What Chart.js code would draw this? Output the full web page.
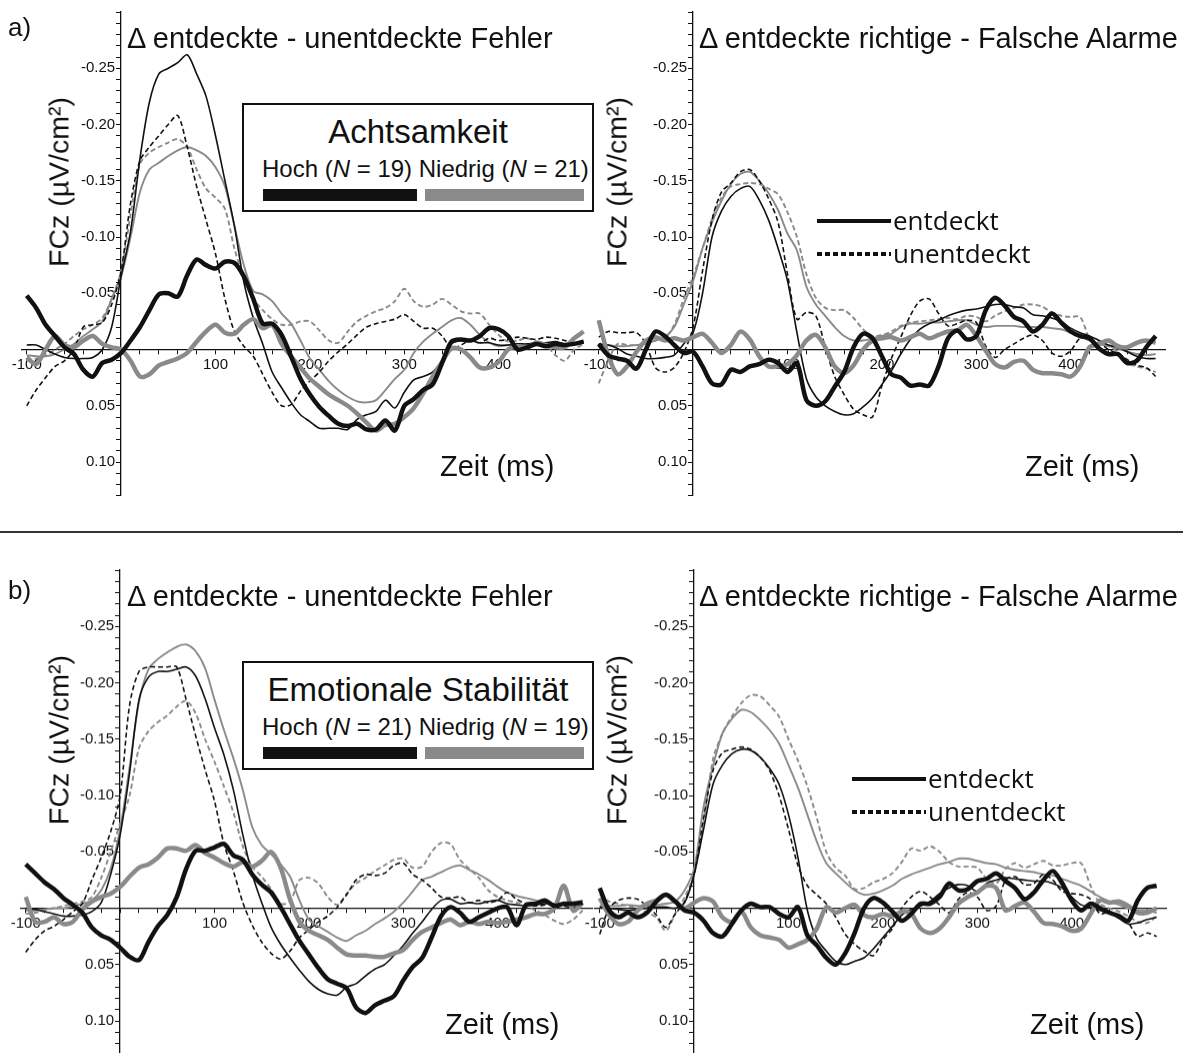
<!DOCTYPE html>
<html>
<head>
<meta charset="utf-8">
<script src="https://cdn.jsdelivr.net/npm/chart.js@4.4.0/dist/chart.umd.min.js"></script>
<style>
body { margin: 0; background: #fff; width: 1183px; height: 1053px; position: relative; overflow: hidden; font-family: "Liberation Sans", Arial, sans-serif; color: #111; }
.panel { position: absolute; z-index: 1; }
.txt { position: absolute; white-space: nowrap; z-index: 2; }
.title { font-size: 29px; line-height: 32px; }
.zeit { font-size: 29px; line-height: 32px; }
.ylab { position: absolute; white-space: nowrap; z-index: 2; font-size: 28.5px; transform: translate(-50%, -50%) rotate(-90deg); }
.legbox { position: absolute; z-index: 2; background: #fff; border: 2px solid #111; box-sizing: border-box; }
.bar { position: absolute; z-index: 3; height: 12px; }
.sep { position: absolute; left: 0; width: 1183px; top: 531px; height: 2px; background: #333; }
.open { font-family: "Open Sans", sans-serif; font-size: 26px; }
</style>
</head>
<body>

<div class="panel" id="pA1"><canvas id="cA1"></canvas></div>
<div class="panel" id="pA2"><canvas id="cA2"></canvas></div>
<div class="panel" id="pB1"><canvas id="cB1"></canvas></div>
<div class="panel" id="pB2"><canvas id="cB2"></canvas></div>

<div class="sep"></div>

<div class="txt" style="left:8px; top:12px; font-size:26px; line-height:30px;">a)</div>
<div class="txt" style="left:8px; top:575px; font-size:26px; line-height:30px;">b)</div>

<div class="txt title" style="left:127px; top:22px;">Δ entdeckte - unentdeckte Fehler</div>
<div class="txt title" style="left:699px; top:22px;">Δ entdeckte richtige - Falsche Alarme</div>
<div class="txt title" style="left:127px; top:580px;">Δ entdeckte - unentdeckte Fehler</div>
<div class="txt title" style="left:699px; top:580px;">Δ entdeckte richtige - Falsche Alarme</div>

<div class="ylab" style="left:59px; top:182px;">FCz (µV/cm²)</div>
<div class="ylab" style="left:617px; top:182px;">FCz (µV/cm²)</div>
<div class="ylab" style="left:59px; top:740px;">FCz (µV/cm²)</div>
<div class="ylab" style="left:617px; top:740px;">FCz (µV/cm²)</div>

<div class="txt zeit" style="left:440px; top:450px;">Zeit (ms)</div>
<div class="txt zeit" style="left:1025px; top:450px;">Zeit (ms)</div>
<div class="txt zeit" style="left:445px; top:1008px;">Zeit (ms)</div>
<div class="txt zeit" style="left:1030px; top:1008px;">Zeit (ms)</div>

<!-- Legende Achtsamkeit -->
<div class="legbox" style="left:242px; top:103px; width:352px; height:109px;"></div>
<div class="txt" style="left:242px; width:352px; text-align:center; top:113px; font-size:33px; line-height:38px;">Achtsamkeit</div>
<div class="txt" style="left:262px; top:156px; font-size:24px; line-height:26px;">Hoch (<i>N</i> = 19) Niedrig (<i>N</i> = 21)</div>
<div class="bar" style="left:263px; top:189px; width:154px; background:#111;"></div>
<div class="bar" style="left:425px; top:189px; width:159px; background:#8a8a8a;"></div>

<!-- Legende Emotionale Stabilitaet -->
<div class="legbox" style="left:242px; top:661px; width:352px; height:109px;"></div>
<div class="txt" style="left:242px; width:352px; text-align:center; top:671px; font-size:33px; line-height:38px;">Emotionale Stabilität</div>
<div class="txt" style="left:262px; top:714px; font-size:24px; line-height:26px;">Hoch (<i>N</i> = 21) Niedrig (<i>N</i> = 19)</div>
<div class="bar" style="left:263px; top:747px; width:154px; background:#111;"></div>
<div class="bar" style="left:425px; top:747px; width:159px; background:#8a8a8a;"></div>

<!-- Legende entdeckt / unentdeckt -->
<svg class="txt" style="left:815px; top:210px;" width="80" height="60">
	<line x1="2" y1="11" x2="76" y2="11" stroke="#111" stroke-width="4"/>
	<line x1="2" y1="44" x2="76" y2="44" stroke="#111" stroke-width="4" stroke-dasharray="5,3"/>
</svg>
<div class="txt open" style="left:893px; top:203px; line-height:34px;">entdeckt</div>
<div class="txt open" style="left:893px; top:236px; line-height:34px;">unentdeckt</div>

<svg class="txt" style="left:850px; top:768px;" width="80" height="60">
	<line x1="2" y1="11" x2="76" y2="11" stroke="#111" stroke-width="4"/>
	<line x1="2" y1="44" x2="76" y2="44" stroke="#111" stroke-width="4" stroke-dasharray="5,3"/>
</svg>
<div class="txt open" style="left:928px; top:761px; line-height:34px;">entdeckt</div>
<div class="txt open" style="left:928px; top:794px; line-height:34px;">unentdeckt</div>

<script>
// Zeitachse (ms) und Beschriftungen
var zeit = [-100, -90, -80, -70, -60, -50, -40, -30, -20, -10,
	0, 10, 20, 30, 40, 50, 60, 70, 80, 90,
	100, 110, 120, 130, 140, 150, 160, 170, 180, 190,
	200, 210, 220, 230, 240, 250, 260, 270, 280, 290,
	300, 310, 320, 330, 340, 350, 360, 370, 380, 390,
	400, 410, 420, 430, 440, 450, 460, 470, 480, 490];
var zeitTicks = [-100, 100, 200, 300, 400];
var fczTicks = [-0.25, -0.20, -0.15, -0.10, -0.05, 0.05, 0.10];

// a) Achtsamkeit - entdeckte vs. unentdeckte Fehler
var achtFehlerHochEnt = [-0.004, -0.004, 0.000, 0.004, 0.007, 0.008, 0.008, 0.007, 0.000, -0.020,
	-0.065, -0.105, -0.170, -0.220, -0.245, -0.250, -0.255, -0.262, -0.245, -0.225,
	-0.190, -0.150, -0.110, -0.060, -0.028, -0.005, 0.020, 0.034, 0.047, 0.058,
	0.064, 0.070, 0.070, 0.070, 0.071, 0.062, 0.058, 0.055, 0.045, 0.052,
	0.038, 0.027, 0.024, 0.020, 0.010, -0.005, -0.008, -0.008, -0.006, -0.006,
	-0.004, -0.004, -0.005, -0.005, -0.006, -0.006, -0.007, -0.005, -0.006, -0.007];
var achtFehlerHochUnent = [0.050, 0.036, 0.025, 0.015, 0.010, 0.000, -0.020, -0.022, -0.024, -0.040,
	-0.070, -0.130, -0.168, -0.180, -0.190, -0.200, -0.208, -0.180, -0.145, -0.115,
	-0.085, -0.045, -0.016, -0.003, 0.006, 0.022, 0.038, 0.050, 0.049, 0.037,
	0.028, 0.020, 0.010, 0.002, -0.005, -0.013, -0.020, -0.023, -0.025, -0.027,
	-0.031, -0.025, -0.019, -0.019, -0.012, -0.001, -0.004, -0.008, -0.006, -0.010,
	-0.008, -0.009, -0.011, -0.010, -0.009, -0.011, -0.010, -0.008, -0.006, -0.006];
var achtFehlerNiedrigEnt = [0.005, 0.006, 0.006, 0.004, 0.000, -0.005, -0.012, -0.018, -0.025, -0.045,
	-0.065, -0.100, -0.140, -0.160, -0.166, -0.172, -0.177, -0.180, -0.177, -0.172,
	-0.162, -0.145, -0.110, -0.075, -0.052, -0.049, -0.043, -0.032, -0.023, -0.008,
	0.008, 0.018, 0.028, 0.036, 0.042, 0.046, 0.047, 0.045, 0.036, 0.026,
	0.018, 0.003, -0.007, -0.014, -0.020, -0.026, -0.028, -0.022, -0.013, -0.006,
	-0.003, -0.004, -0.005, -0.003, -0.004, -0.003, -0.005, -0.004, -0.005, -0.006];
var achtFehlerNiedrigUnent = [0.010, 0.008, 0.005, 0.000, -0.005, -0.012, -0.018, -0.022, -0.028, -0.045,
	-0.070, -0.120, -0.165, -0.175, -0.180, -0.184, -0.187, -0.180, -0.160, -0.143,
	-0.135, -0.125, -0.090, -0.063, -0.045, -0.035, -0.027, -0.022, -0.022, -0.025,
	-0.025, -0.017, -0.008, -0.006, -0.016, -0.025, -0.030, -0.034, -0.037, -0.043,
	-0.054, -0.043, -0.038, -0.040, -0.045, -0.040, -0.034, -0.032, -0.032, -0.022,
	-0.013, -0.007, -0.008, -0.010, -0.007, -0.004, 0.005, 0.010, 0.000, -0.005];
var achtFehlerHochDiff = [-0.048, -0.037, -0.022, -0.012, -0.002, 0.004, 0.018, 0.024, 0.012, 0.009,
	0.003, -0.008, -0.020, -0.035, -0.049, -0.050, -0.047, -0.066, -0.080, -0.075,
	-0.072, -0.078, -0.077, -0.065, -0.045, -0.023, -0.023, -0.013, 0.006, 0.026,
	0.040, 0.051, 0.059, 0.066, 0.068, 0.066, 0.071, 0.071, 0.063, 0.072,
	0.050, 0.044, 0.036, 0.031, 0.012, -0.007, -0.009, -0.008, -0.012, -0.019,
	-0.018, -0.012, 0.000, -0.002, -0.005, -0.003, -0.005, -0.004, -0.005, -0.007];
var achtFehlerNiedrigDiff = [0.007, 0.013, 0.000, -0.012, -0.004, -0.002, -0.008, -0.012, -0.005, -0.002,
	0.000, 0.010, 0.024, 0.022, 0.014, 0.011, 0.008, 0.003, -0.007, -0.016,
	-0.022, -0.015, -0.014, -0.022, -0.027, -0.019, -0.022, -0.005, 0.006, 0.016,
	0.026, 0.033, 0.040, 0.045, 0.050, 0.057, 0.065, 0.072, 0.067, 0.066,
	0.060, 0.052, 0.039, 0.024, 0.011, -0.001, 0.000, 0.007, 0.016, 0.016,
	0.011, 0.000, -0.003, -0.002, -0.006, -0.004, -0.002, -0.002, -0.010, -0.016];

// a) Achtsamkeit - entdeckte richtige vs. falsche Alarme
var achtAlarmHochEnt = [-0.005, -0.004, -0.001, 0.004, 0.006, 0.008, 0.008, 0.007, 0.005, -0.005,
	-0.015, -0.050, -0.100, -0.123, -0.136, -0.143, -0.145, -0.133, -0.115, -0.090,
	-0.061, -0.015, 0.026, 0.042, 0.050, 0.055, 0.058, 0.057, 0.051, 0.043,
	0.031, 0.019, 0.004, -0.009, -0.018, -0.023, -0.026, -0.030, -0.033, -0.035,
	-0.036, -0.038, -0.040, -0.040, -0.038, -0.037, -0.031, -0.030, -0.028, -0.025,
	-0.019, -0.015, -0.012, -0.008, -0.004, -0.002, 0.002, 0.006, 0.008, 0.008];
var achtAlarmHochUnent = [-0.011, -0.016, -0.015, -0.015, -0.015, -0.005, 0.016, 0.020, 0.016, 0.003,
	-0.020, -0.070, -0.115, -0.140, -0.148, -0.158, -0.160, -0.150, -0.134, -0.113,
	-0.067, -0.027, -0.033, -0.030, -0.002, 0.024, 0.040, 0.053, 0.058, 0.060,
	0.032, 0.008, -0.011, -0.030, -0.043, -0.045, -0.032, -0.021, -0.023, -0.026,
	-0.024, -0.003, 0.007, 0.000, -0.005, -0.010, -0.013, -0.008, 0.003, 0.006,
	0.001, -0.010, -0.009, -0.006, 0.000, 0.004, 0.009, 0.014, 0.016, 0.024];
var achtAlarmNiedrigEnt = [-0.004, -0.004, -0.003, -0.003, -0.004, -0.005, -0.008, -0.011, -0.020, -0.040,
	-0.061, -0.090, -0.113, -0.132, -0.147, -0.156, -0.158, -0.150, -0.139, -0.124,
	-0.103, -0.088, -0.056, -0.040, -0.030, -0.020, -0.012, -0.008, -0.008, -0.010,
	-0.012, -0.014, -0.020, -0.023, -0.023, -0.024, -0.024, -0.025, -0.026, -0.026,
	-0.022, -0.020, -0.021, -0.021, -0.021, -0.020, -0.020, -0.020, -0.019, -0.018,
	-0.015, -0.012, -0.008, -0.005, -0.003, -0.001, 0.002, 0.004, 0.005, 0.004];
var achtAlarmNiedrigUnent = [0.030, 0.010, -0.005, -0.004, -0.004, -0.005, -0.008, -0.010, -0.022, -0.045,
	-0.065, -0.090, -0.116, -0.135, -0.145, -0.147, -0.148, -0.147, -0.143, -0.138,
	-0.122, -0.100, -0.067, -0.046, -0.037, -0.035, -0.035, -0.028, -0.018, -0.012,
	-0.013, -0.016, -0.021, -0.024, -0.025, -0.026, -0.027, -0.028, -0.027, -0.030,
	-0.029, -0.025, -0.030, -0.034, -0.037, -0.040, -0.040, -0.038, -0.033, -0.030,
	-0.029, -0.029, -0.010, -0.005, -0.003, 0.002, 0.012, 0.015, 0.017, 0.020];
var achtAlarmHochDiff = [-0.005, 0.005, 0.008, 0.010, 0.017, 0.000, -0.016, -0.012, -0.004, 0.003,
	0.002, 0.015, 0.030, 0.031, 0.018, 0.020, 0.015, 0.013, 0.009, 0.012,
	0.020, 0.012, 0.045, 0.050, 0.046, 0.033, 0.020, -0.002, -0.014, -0.010,
	0.006, 0.022, 0.025, 0.032, 0.031, 0.032, 0.015, -0.010, -0.017, -0.009,
	-0.012, -0.035, -0.046, -0.039, -0.029, -0.025, -0.016, -0.022, -0.032, -0.024,
	-0.016, -0.012, -0.010, -0.001, 0.004, 0.004, 0.012, 0.010, -0.002, -0.012];
var achtAlarmNiedrigDiff = [-0.026, 0.005, 0.022, 0.015, 0.002, -0.008, -0.011, -0.008, -0.010, -0.008,
	-0.011, -0.014, -0.006, 0.003, -0.004, -0.016, -0.009, 0.006, 0.015, 0.015,
	0.013, 0.005, -0.008, -0.013, -0.002, 0.015, 0.021, 0.014, 0.000, -0.008,
	-0.010, -0.011, -0.008, -0.011, -0.014, -0.010, -0.013, -0.016, -0.017, -0.022,
	-0.012, 0.001, 0.013, 0.016, 0.011, 0.010, 0.018, 0.021, 0.021, 0.022,
	0.024, 0.015, -0.002, -0.005, -0.008, -0.003, -0.002, -0.006, -0.008, -0.006];

// b) Emotionale Stabilitaet - entdeckte vs. unentdeckte Fehler
var emoFehlerHochEnt = [0.000, 0.001, 0.003, 0.005, 0.007, 0.007, 0.006, 0.003, -0.005, -0.030,
	-0.065, -0.120, -0.185, -0.205, -0.210, -0.210, -0.212, -0.214, -0.206, -0.186,
	-0.160, -0.136, -0.105, -0.065, -0.030, -0.005, 0.017, 0.032, 0.044, 0.055,
	0.065, 0.072, 0.076, 0.077, 0.070, 0.067, 0.060, 0.054, 0.050, 0.042,
	0.033, 0.022, 0.012, 0.001, -0.007, -0.008, -0.004, -0.005, -0.004, -0.006,
	-0.007, -0.004, -0.003, -0.002, -0.003, -0.004, -0.004, -0.004, -0.004, -0.004];
var emoFehlerHochUnent = [0.039, 0.028, 0.020, 0.016, 0.010, 0.003, -0.004, -0.025, -0.045, -0.068,
	-0.100, -0.180, -0.210, -0.214, -0.214, -0.214, -0.214, -0.185, -0.153, -0.123,
	-0.095, -0.057, -0.033, -0.005, 0.015, 0.030, 0.040, 0.045, 0.038, 0.026,
	0.019, 0.012, 0.007, -0.001, -0.012, -0.025, -0.030, -0.029, -0.031, -0.038,
	-0.040, -0.030, -0.025, -0.018, -0.010, -0.009, -0.010, -0.005, -0.007, -0.005,
	-0.007, -0.014, -0.008, -0.004, -0.002, -0.003, -0.004, -0.002, -0.001, -0.003];
var emoFehlerNiedrigEnt = [0.002, 0.002, 0.001, 0.000, 0.000, -0.002, -0.004, -0.007, -0.016, -0.035,
	-0.070, -0.125, -0.183, -0.212, -0.221, -0.227, -0.232, -0.234, -0.228, -0.213,
	-0.185, -0.158, -0.133, -0.105, -0.072, -0.056, -0.048, -0.039, -0.028, -0.007,
	0.010, 0.016, 0.021, 0.026, 0.029, 0.024, 0.020, 0.014, 0.009, 0.003,
	-0.005, -0.015, -0.025, -0.028, -0.032, -0.036, -0.038, -0.034, -0.030, -0.025,
	-0.019, -0.014, -0.011, -0.009, -0.007, -0.005, -0.004, -0.004, -0.005, -0.007];
var emoFehlerNiedrigUnent = [0.005, 0.004, 0.002, 0.000, -0.002, -0.004, -0.006, -0.010, -0.027, -0.050,
	-0.075, -0.100, -0.142, -0.157, -0.165, -0.171, -0.179, -0.184, -0.173, -0.150,
	-0.130, -0.108, -0.085, -0.055, -0.037, -0.028, -0.017, -0.004, -0.006, -0.025,
	-0.027, -0.022, -0.010, -0.003, -0.013, -0.022, -0.027, -0.033, -0.038, -0.043,
	-0.044, -0.036, -0.037, -0.050, -0.058, -0.057, -0.043, -0.035, -0.027, -0.016,
	-0.010, -0.007, -0.005, -0.002, 0.002, 0.006, 0.011, 0.014, 0.010, 0.002];
var emoFehlerHochDiff = [-0.039, -0.031, -0.023, -0.017, -0.009, -0.003, 0.004, 0.017, 0.024, 0.028,
	0.035, 0.043, 0.046, 0.030, 0.016, 0.006, -0.010, -0.035, -0.051, -0.051,
	-0.054, -0.057, -0.047, -0.043, -0.030, -0.021, -0.014, -0.001, 0.014, 0.029,
	0.041, 0.053, 0.063, 0.067, 0.071, 0.088, 0.093, 0.086, 0.082, 0.078,
	0.064, 0.052, 0.044, 0.026, 0.007, -0.001, 0.004, 0.012, 0.008, 0.004,
	0.000, -0.001, 0.015, -0.003, -0.004, -0.007, -0.002, -0.004, -0.004, -0.005];
var emoFehlerNiedrigDiff = [-0.010, 0.012, 0.012, 0.008, 0.014, 0.012, 0.001, -0.006, -0.010, -0.013,
	-0.019, -0.028, -0.036, -0.039, -0.045, -0.053, -0.053, -0.051, -0.056, -0.049,
	-0.045, -0.040, -0.037, -0.041, -0.037, -0.042, -0.050, -0.036, -0.008, 0.012,
	0.020, 0.024, 0.028, 0.035, 0.041, 0.042, 0.042, 0.043, 0.043, 0.040,
	0.037, 0.028, 0.021, 0.017, 0.013, 0.010, 0.015, 0.012, 0.014, 0.012,
	0.013, 0.012, 0.010, 0.008, 0.005, 0.005, 0.000, -0.020, 0.002, -0.005];

// b) Emotionale Stabilitaet - entdeckte richtige vs. falsche Alarme
var emoAlarmHochEnt = [-0.001, 0.000, 0.001, 0.002, 0.001, 0.000, -0.001, -0.001, 0.000, -0.005,
	-0.030, -0.070, -0.110, -0.127, -0.137, -0.141, -0.140, -0.134, -0.124, -0.110,
	-0.083, -0.045, 0.002, 0.027, 0.038, 0.047, 0.050, 0.047, 0.044, 0.036,
	0.026, 0.016, 0.006, 0.001, -0.002, -0.006, -0.013, -0.018, -0.021, -0.020,
	-0.015, -0.022, -0.025, -0.027, -0.026, -0.025, -0.024, -0.024, -0.022, -0.018,
	-0.010, -0.003, -0.001, 0.002, 0.004, 0.009, 0.014, 0.013, 0.010, 0.008];
var emoAlarmHochUnent = [0.023, 0.000, -0.007, -0.009, -0.008, -0.002, 0.006, 0.017, 0.005, -0.006,
	-0.030, -0.080, -0.122, -0.138, -0.141, -0.143, -0.141, -0.134, -0.122, -0.100,
	-0.070, -0.038, -0.020, -0.012, -0.004, 0.008, 0.023, 0.032, 0.038, 0.042,
	0.028, 0.018, 0.000, -0.010, -0.015, -0.010, -0.003, 0.004, -0.008, -0.014,
	-0.010, 0.002, -0.002, -0.025, -0.028, -0.021, -0.022, -0.030, -0.025, -0.015,
	-0.013, -0.012, -0.008, 0.005, 0.003, 0.008, 0.013, 0.025, 0.022, 0.025];
var emoAlarmNiedrigEnt = [-0.002, -0.002, -0.002, -0.003, -0.002, -0.002, -0.003, -0.004, -0.006, -0.016,
	-0.035, -0.090, -0.126, -0.155, -0.168, -0.176, -0.174, -0.167, -0.158, -0.146,
	-0.127, -0.107, -0.083, -0.059, -0.040, -0.031, -0.023, -0.016, -0.012, -0.013,
	-0.016, -0.020, -0.026, -0.030, -0.033, -0.036, -0.039, -0.041, -0.044, -0.044,
	-0.042, -0.040, -0.039, -0.036, -0.034, -0.033, -0.032, -0.030, -0.029, -0.026,
	-0.023, -0.020, -0.015, -0.010, -0.006, -0.003, 0.000, 0.002, 0.002, 0.004];
var emoAlarmNiedrigUnent = [-0.012, -0.006, -0.004, -0.002, 0.000, 0.004, 0.008, 0.020, 0.005, -0.010,
	-0.030, -0.075, -0.132, -0.155, -0.170, -0.182, -0.189, -0.188, -0.180, -0.170,
	-0.150, -0.131, -0.108, -0.080, -0.050, -0.036, -0.029, -0.017, -0.018, -0.023,
	-0.026, -0.031, -0.041, -0.053, -0.051, -0.055, -0.050, -0.041, -0.037, -0.037,
	-0.036, -0.026, -0.022, -0.035, -0.040, -0.036, -0.039, -0.042, -0.038, -0.038,
	-0.040, -0.040, -0.020, -0.004, 0.000, 0.003, 0.007, 0.012, 0.013, 0.007];
var emoAlarmHochDiff = [-0.018, 0.002, 0.008, 0.004, 0.008, 0.004, -0.006, -0.012, -0.006, 0.002,
	0.004, 0.011, 0.022, 0.025, 0.014, 0.002, -0.004, -0.001, -0.001, 0.005,
	0.008, -0.001, 0.024, 0.033, 0.044, 0.050, 0.040, 0.022, 0.000, -0.009,
	-0.005, 0.003, 0.011, 0.005, -0.004, -0.004, -0.010, -0.022, -0.016, -0.017,
	-0.024, -0.026, -0.031, -0.024, -0.018, -0.008, -0.014, -0.025, -0.033, -0.022,
	-0.007, 0.002, -0.004, 0.000, 0.004, 0.007, 0.011, -0.007, -0.018, -0.020];
var emoAlarmNiedrigDiff = [-0.009, 0.006, 0.014, 0.012, 0.002, -0.004, -0.007, -0.012, -0.006, 0.000,
	-0.005, -0.009, -0.006, 0.008, 0.012, 0.003, 0.017, 0.024, 0.026, 0.028,
	0.035, 0.032, 0.028, 0.018, -0.001, 0.004, 0.000, -0.003, 0.006, 0.008,
	0.005, 0.007, 0.003, 0.005, 0.018, 0.022, 0.018, 0.008, -0.004, -0.010,
	-0.014, -0.020, -0.018, 0.002, -0.002, -0.005, 0.003, 0.013, 0.014, 0.016,
	0.020, 0.018, 0.005, -0.007, -0.005, -0.006, -0.002, 0.004, 0.004, 0.000];

var PAD = 40;
var MS_PX = 0.944;
var VAL_PX = 1125;
var X_MIN = -105, X_MAX = 500;
var Y_MIN = -0.30, Y_MAX = 0.13;

var BLACK = '#111111';
var GRAY = '#8a8a8a';

function toPoints(values) {
	return zeit.map(function(t, i) { return {x: t, y: values[i]}; });
}

function placePanel(divId, axisX, zeroY) {
	var div = document.getElementById(divId);
	div.style.left = (axisX + X_MIN * MS_PX - PAD) + 'px';
	div.style.top = (zeroY + Y_MIN * VAL_PX - PAD) + 'px';
	div.style.width = ((X_MAX - X_MIN) * MS_PX + 2 * PAD) + 'px';
	div.style.height = ((Y_MAX - Y_MIN) * VAL_PX + 2 * PAD) + 'px';
}

function createChart(canvasId, hochDiff, niedrigDiff, hochEnt, hochUnent, niedrigEnt, niedrigUnent) {
	var tickFont = {family: '"Liberation Sans", Arial, sans-serif', size: 15};
	new Chart(document.getElementById(canvasId), {
		type: 'line',
		data: {
			datasets: [
				{data: toPoints(hochDiff), borderColor: BLACK, borderWidth: 4.5},
				{data: toPoints(niedrigDiff), borderColor: GRAY, borderWidth: 4.5},
				{data: toPoints(hochEnt), borderColor: BLACK, borderWidth: 1.6},
				{data: toPoints(hochUnent), borderColor: BLACK, borderWidth: 1.6, borderDash: [5, 3]},
				{data: toPoints(niedrigEnt), borderColor: GRAY, borderWidth: 1.9},
				{data: toPoints(niedrigUnent), borderColor: GRAY, borderWidth: 1.9, borderDash: [5, 3]}
			]
		},
		options: {
			responsive: true,
			maintainAspectRatio: false,
			animation: false,
			layout: {padding: PAD},
			elements: {
				point: {radius: 0},
				line: {tension: 0.3, fill: false}
			},
			plugins: {
				legend: {display: false},
				tooltip: {enabled: false}
			},
			scales: {
				x: {
					type: 'linear',
					min: X_MIN,
					max: X_MAX,
					position: {y: 0},
					afterBuildTicks: function(axis) {
						var ticks = [];
						for (var t = -100; t <= 480; t += 20)
							ticks.push({value: t});
						axis.ticks = ticks;
					},
					grid: {drawOnChartArea: false, tickLength: 4, color: BLACK, tickWidth: 1},
					border: {color: BLACK, width: 1.3},
					ticks: {
						autoSkip: false,
						maxRotation: 0,
						padding: 2,
						color: BLACK,
						font: tickFont,
						callback: function(value) {
							return zeitTicks.indexOf(value) >= 0 ? String(value) : '';
						}
					}
				},
				y: {
					type: 'linear',
					min: Y_MIN,
					max: Y_MAX,
					reverse: true,
					position: {x: 0},
					afterBuildTicks: function(axis) {
						var ticks = [];
						for (var k = -30; k <= 13; k++)
							ticks.push({value: k / 100});
						axis.ticks = ticks;
					},
					grid: {drawOnChartArea: false, tickLength: 4, color: BLACK, tickWidth: 1},
					border: {color: BLACK, width: 1.3},
					ticks: {
						autoSkip: false,
						padding: 3,
						color: BLACK,
						font: tickFont,
						callback: function(value) {
							var v = Math.round(value * 100) / 100;
							return fczTicks.indexOf(v) >= 0 ? v.toFixed(2) + '\u2009\u2009' : '';
						}
					}
				}
			}
		}
	});
}

placePanel('pA1', 121, 349);
placePanel('pA2', 693.5, 349);
placePanel('pB1', 120.5, 907.5);
placePanel('pB2', 694.5, 907.5);

createChart('cA1', achtFehlerHochDiff, achtFehlerNiedrigDiff, achtFehlerHochEnt, achtFehlerHochUnent, achtFehlerNiedrigEnt, achtFehlerNiedrigUnent);
createChart('cA2', achtAlarmHochDiff, achtAlarmNiedrigDiff, achtAlarmHochEnt, achtAlarmHochUnent, achtAlarmNiedrigEnt, achtAlarmNiedrigUnent);
createChart('cB1', emoFehlerHochDiff, emoFehlerNiedrigDiff, emoFehlerHochEnt, emoFehlerHochUnent, emoFehlerNiedrigEnt, emoFehlerNiedrigUnent);
createChart('cB2', emoAlarmHochDiff, emoAlarmNiedrigDiff, emoAlarmHochEnt, emoAlarmHochUnent, emoAlarmNiedrigEnt, emoAlarmNiedrigUnent);
</script>
</body>
</html>
